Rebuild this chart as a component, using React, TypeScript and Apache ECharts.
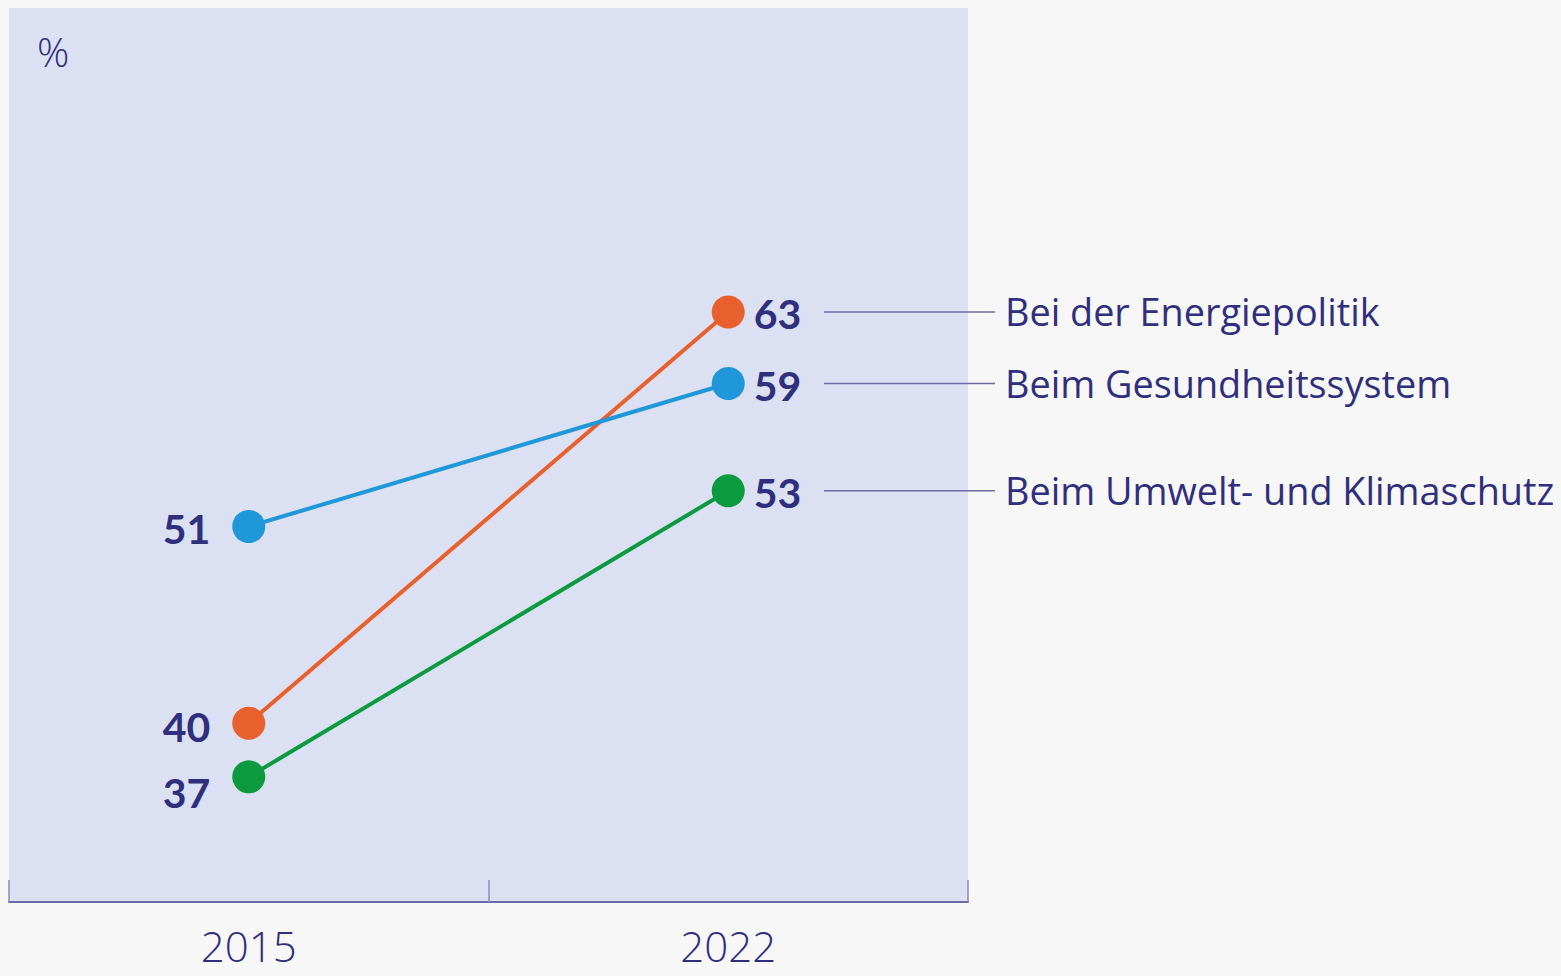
import React, { useEffect, useRef } from "react";
import * as echarts from "echarts";

const years = ["2015", "2022"];
const seriesNames = ["Bei der Energiepolitik", "Beim Gesundheitssystem", "Beim Umwelt- und Klimaschutz"];
const energie = [40, 63];
const gesundheit = [51, 59];
const umwelt = [37, 53];
const unitLabel = "%";

const seriesValues = [energie, gesundheit, umwelt];
const colors = ["#e8602c", "#1f97d8", "#0b9a3d"];
const labelOffsets: number[][] = [[0, 3], [0, 2], [0, 16]];
const textColor = "#2f2f7d";

export default function App() {
  const ref = useRef<HTMLDivElement>(null);
  useEffect(() => {
    document.body.style.margin = "0";
    document.body.style.background = "#f7f7f7";
    const chart = echarts.init(ref.current!, undefined, { renderer: "svg" });
    const order = [1, 2, 0];
    const series = order.map((i) => ({
      type: "line",
      name: seriesNames[i],
      data: seriesValues[i].map((v, j) => ({
        value: v,
        label: j === 0
          ? { position: "left", distance: 22, offset: labelOffsets[i] }
          : { position: "right", distance: 9, offset: [0, 2] },
      })),
      symbol: "circle",
      symbolSize: 33,
      itemStyle: { color: colors[i] },
      lineStyle: { color: colors[i], width: 4 },
      label: {
        show: true,
        color: textColor,
        fontSize: 41,
        fontWeight: "bold",
        fontFamily: "Lato, 'Open Sans', sans-serif",
      },
      z: 2 + i,
    }));
    chart.setOption({
      animation: false,
      backgroundColor: "#f7f7f7",
      grid: {
        left: 9,
        top: 8,
        width: 959,
        height: 894,
        show: true,
        backgroundColor: "#dbe1f3",
        borderWidth: 0,
      },
      xAxis: {
        type: "category",
        data: years,
        boundaryGap: true,
        axisLine: { lineStyle: { color: "#6b6ba8", width: 2 } },
        axisTick: { show: true, inside: true, length: 22, lineStyle: { color: "#8a8ab8", width: 1.5 } },
        axisLabel: {
          color: textColor,
          fontSize: 42,
          lineHeight: 40,
          fontWeight: 300,
          margin: 23,
          fontFamily: "'Open Sans', sans-serif",
        },
      },
      yAxis: {
        type: "value",
        min: 30,
        max: 80,
        show: false,
        splitLine: { show: false },
      },
      series,
    });
    const graphics: any[] = [
      {
        type: "text",
        left: 37,
        top: 31,
        style: { text: unitLabel, fill: textColor, fontSize: 40, fontWeight: 300, fontFamily: "'Open Sans', sans-serif" },
      },
    ];
    seriesValues.forEach((vals, i) => {
      const y = chart.convertToPixel({ gridIndex: 0 } as any, [1, vals[1]])[1];
      graphics.push({
        type: "line",
        shape: { x1: 824, y1: y, x2: 995, y2: y },
        style: { stroke: "#6a6aa0", lineWidth: 1.5 },
      });
      graphics.push({
        type: "text",
        x: 1005,
        y: y,
        style: {
          text: seriesNames[i],
          fill: textColor,
          fontSize: 37.8,
          fontFamily: "'Open Sans', sans-serif",
          verticalAlign: "middle",
          align: "left",
        },
      });
    });
    chart.setOption({ graphic: graphics });
    return () => chart.dispose();
  }, []);
  return <div ref={ref} style={{ width: 1561, height: 976 }} />;
}
